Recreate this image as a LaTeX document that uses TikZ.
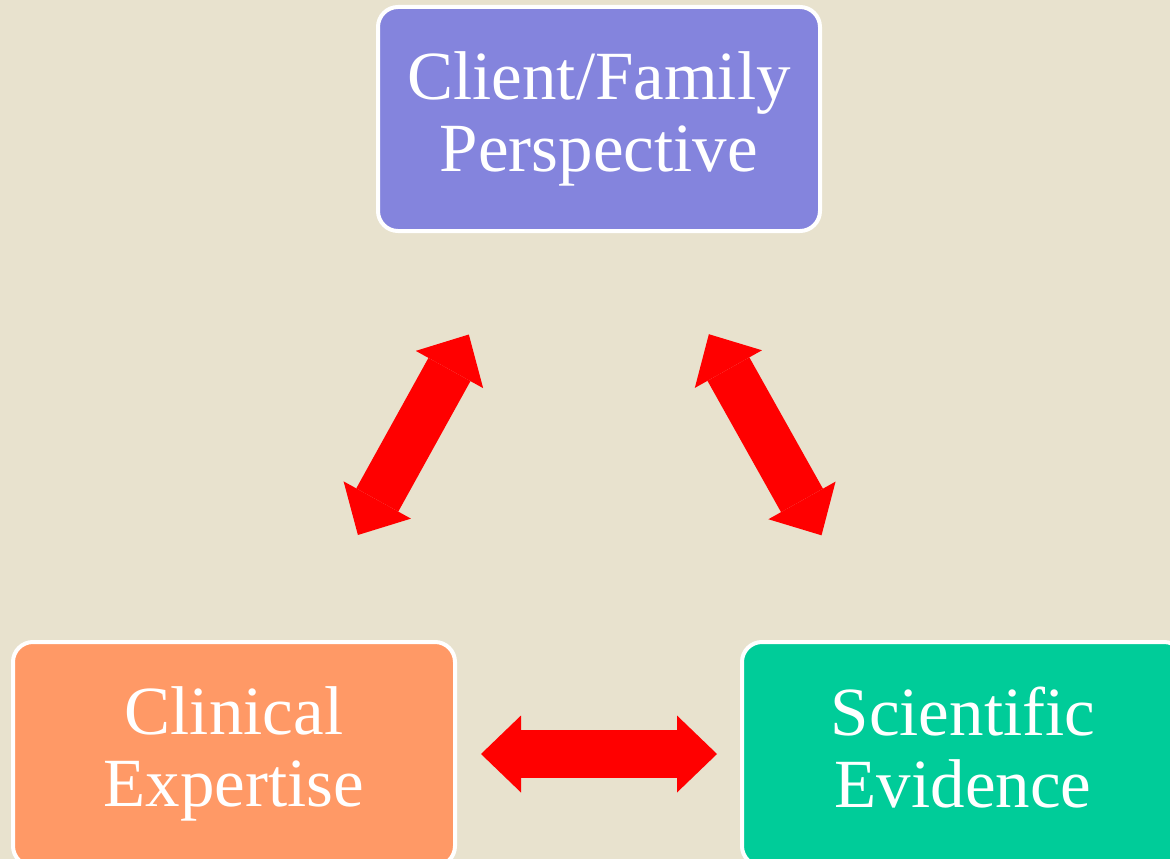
\documentclass[tikz,border=0pt]{standalone}
\usepackage{fontspec}
\setmainfont{Liberation Serif}
\usetikzlibrary{positioning,arrows.meta}
\definecolor{paper}{RGB}{232,226,206}
\definecolor{purplebox}{RGB}{132,132,221}
\definecolor{orangebox}{RGB}{255,153,102}
\definecolor{greenbox}{RGB}{0,204,153}
\newcommand{\boxstrut}{\rule[-13pt]{0pt}{65pt}}
\tikzset{
	box/.style args = {#1}{rectangle, rounded corners=20pt, draw=white, line width=4pt, fill=#1, text=white, minimum width=442pt, minimum height=224pt, align=center, font=\fontsize{69}{72}\selectfont, execute at begin node=\boxstrut, execute at end node=\boxstrut},
	box/.default = purplebox,
	link/.style = {red, line width=48pt, {Triangle[length=40pt, width=77pt, line width=0pt]}-{Triangle[length=40pt, width=77pt, line width=0pt]}},
}

\begin{document}
\begin{tikzpicture}[x=1pt,y=-1pt]
				\useasboundingbox (0,0) rectangle (1170,859);
				\fill[paper] (0,0) rectangle (1170,859);
				\clip (0,0) rectangle (1170,859);
				\node[box] (client) at (599,119) {Client/Family\\Perspective};
				\node[box=orangebox] (clinical) at (234,754) {Clinical\\Expertise};
				\node[box=greenbox] (science) at (963,754) {Scientific\\Evidence};
				\draw[link, shorten <=116pt, shorten >=120pt] (client.237) -- (clinical.60);
				\draw[link, shorten <=116pt, shorten >=120pt] (client.295) -- (science.126);
				\draw[link, shorten <=24pt, shorten >=23pt] (clinical.east) -- (science.west);
			\end{tikzpicture}
\end{document}
